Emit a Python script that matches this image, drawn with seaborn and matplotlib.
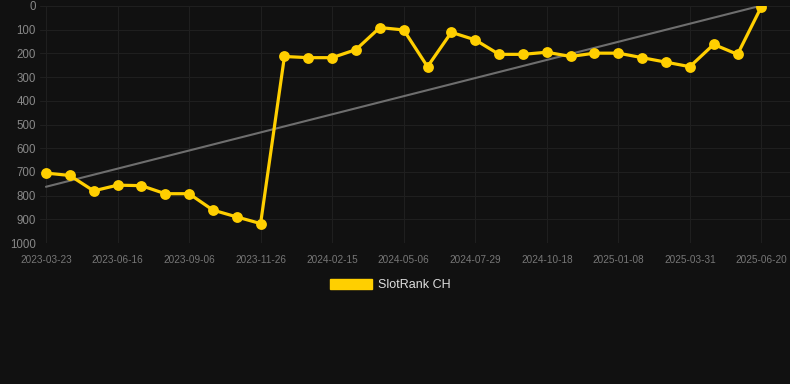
import numpy as np
import pandas as pd
import matplotlib
matplotlib.use("Agg")
import matplotlib.pyplot as plt
from matplotlib.patches import Patch
import seaborn as sns

# rank values, one every ~27 days (31 snapshots)
ranks = [705, 715, 780, 756, 758, 792, 792, 861, 890, 918,
         213, 218, 218, 184, 91, 101, 256, 111, 143, 204,
         204, 195, 213, 199, 199, 218, 237, 256, 162, 204, 3]
tick_labels = ["2023-03-23", "2023-06-16", "2023-09-06", "2023-11-26",
               "2024-02-15", "2024-05-06", "2024-07-29", "2024-10-18",
               "2025-01-08", "2025-03-31", "2025-06-20"]
series_name = "SlotRank CH"

BG = "#111111"
YELLOW = "#FFCF00"


def main():
    sns.set_theme(style="dark")
    plt.rcParams["font.family"] = ["Liberation Sans", "DejaVu Sans"]

    df = pd.DataFrame({"idx": np.arange(len(ranks)), "rank": ranks})

    fig = plt.figure(figsize=(7.9, 3.84), dpi=100, facecolor=BG)
    ax = fig.add_axes([40 / 790, 1 - 243 / 384, 750 / 790, 237 / 384])
    ax.set_facecolor(BG)

    # linear trend over the whole period
    coef = np.polyfit(df["idx"], df["rank"], 1)
    trend = np.polyval(coef, df["idx"])
    ax.plot(df["idx"], trend, color="#6e6e6e", lw=1.5, zorder=2)

    sns.lineplot(data=df, x="idx", y="rank", ax=ax, color=YELLOW, lw=2.3,
                 marker="o", markersize=7.8, markeredgewidth=0, zorder=3)

    ax.set_ylim(1000, 0)
    ax.set_yticks(range(0, 1001, 100))
    ax.set_xlim(-0.25, 31.2)
    ax.set_xticks(range(0, len(ranks), 3))
    ax.set_xticklabels(tick_labels)

    ax.grid(True, color="#1f1f1f", lw=0.8)
    ax.tick_params(axis="y", colors="#888888", labelsize=8.3, length=0, pad=3)
    ax.tick_params(axis="x", colors="#777777", labelsize=7.2, length=0, pad=8.5)
    for s in ax.spines.values():
        s.set_visible(False)
    ax.set_xlabel("")
    ax.set_ylabel("")

    handle = Patch(facecolor=YELLOW, edgecolor=YELLOW)
    fig.legend([handle], [series_name], loc="center", bbox_to_anchor=(0.494, 0.258),
               frameon=False, fontsize=9, labelcolor="#dddddd",
               handlelength=3.4, handleheight=0.95, handletextpad=0.5)

    fig.savefig("out.png", dpi=100, facecolor=BG)


if __name__ == "__main__":
    main()
